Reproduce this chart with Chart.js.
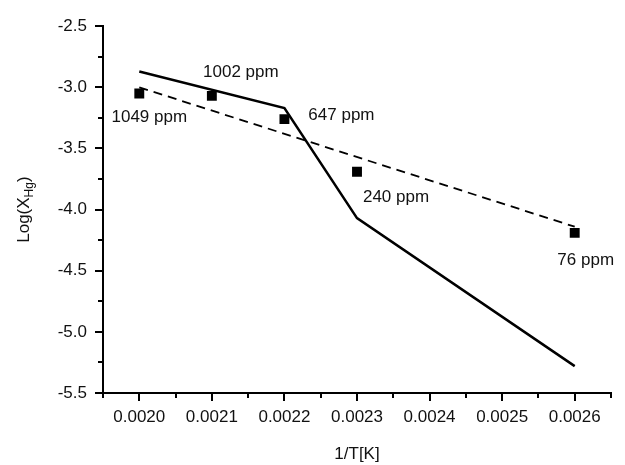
<!DOCTYPE html>
<html>
<head>
<meta charset="utf-8">
<script src="https://cdn.jsdelivr.net/npm/chart.js@4/dist/chart.umd.min.js"></script>
<style>
  html, body { margin: 0; padding: 0; background: #fff; }
  #wrap { width: 625px; height: 465px; position: relative; }
</style>
</head>
<body>
<div id="wrap"><canvas id="c" width="625" height="465"></canvas></div>
<script>
// ---- data ----
const pointX = [0.0020, 0.0021, 0.0022, 0.0023, 0.0026];
const pointY = [-3.05, -3.07, -3.26, -3.69, -4.19];
const pointLabels = ['1049 ppm', '1002 ppm', '647 ppm', '240 ppm', '76 ppm'];

const solidX = [0.0020, 0.0022, 0.0023, 0.0026];
const solidY = [-2.87, -3.17, -4.07, -5.28];

const dashX = [0.0020, 0.0026];
const dashY = [-3.00, -4.14];

const xMin = 0.00195, xMax = 0.00265, xStep = 0.00005, xMajor = 0.0001;
const yMin = -5.5, yMax = -2.5, yStep = 0.25, yMajor = 0.5;
const xTitle = '1/T[K]';
const yTitleMain = 'Log(X';
const yTitleSub = 'Hg';
const yTitleEnd = ')';

const toXY = (xs, ys) => xs.map((x, i) => ({ x: x, y: ys[i] }));
const isMultiple = (v, m) => Math.abs(v / m - Math.round(v / m)) < 1e-6;

const FONT = '"Liberation Sans", Arial, sans-serif';
const FS = 17;

// offsets (px) of the point annotations relative to their markers
const labelOffsets = [[10, 24], [29, -24], [57, -4], [39, 26], [11, 27]];

const decorPlugin = {
  id: 'decor',
  afterDatasetsDraw(chart) {
    const ctx = chart.ctx;
    const xs = chart.scales.x, ys = chart.scales.y;
    ctx.save();
    // tick marks (major longer, minor shorter), drawn outward
    ctx.strokeStyle = '#000';
    ctx.lineWidth = 2;
    xs.ticks.forEach((t, i) => {
      const px = Math.round(xs.getPixelForTick(i));
      const major = isMultiple(t.value, xMajor);
      const len = major ? 8 : 5;
      ctx.beginPath();
      ctx.moveTo(px, xs.top);
      ctx.lineTo(px, xs.top + len);
      ctx.stroke();
    });
    ys.ticks.forEach((t, i) => {
      const py = Math.round(ys.getPixelForTick(i));
      const major = isMultiple(t.value, yMajor);
      const len = major ? 8 : 5;
      ctx.beginPath();
      ctx.moveTo(ys.right, py);
      ctx.lineTo(ys.right - len, py);
      ctx.stroke();
    });
    // point annotations
    ctx.fillStyle = '#111';
    ctx.font = FS + 'px ' + FONT;
    ctx.textAlign = 'center';
    ctx.textBaseline = 'middle';
    pointLabels.forEach((lab, i) => {
      const px = xs.getPixelForValue(pointX[i]);
      const py = ys.getPixelForValue(pointY[i]);
      ctx.fillText(lab, px + labelOffsets[i][0], py + labelOffsets[i][1]);
    });
    // y-axis title with subscript
    const cx = 23, cy = (chart.chartArea.top + chart.chartArea.bottom) / 2;
    ctx.translate(cx, cy);
    ctx.rotate(-Math.PI / 2);
    const mainFont = FS + 'px ' + FONT, subFont = '12px ' + FONT;
    ctx.font = mainFont; const w1 = ctx.measureText(yTitleMain).width;
    const w3 = ctx.measureText(yTitleEnd).width;
    ctx.font = subFont; const w2 = ctx.measureText(yTitleSub).width;
    let x0 = -(w1 + w2 + w3) / 2;
    ctx.textAlign = 'left';
    ctx.textBaseline = 'alphabetic';
    ctx.font = mainFont; ctx.fillText(yTitleMain, x0, 6);
    ctx.font = subFont; ctx.fillText(yTitleSub, x0 + w1, 10);
    ctx.font = mainFont; ctx.fillText(yTitleEnd, x0 + w1 + w2, 6);
    ctx.restore();
  }
};

new Chart(document.getElementById('c'), {
  type: 'scatter',
  data: {
    datasets: [
      {
        type: 'line',
        data: toXY(solidX, solidY),
        borderColor: '#000',
        borderWidth: 2.5,
        pointRadius: 0,
        fill: false,
        tension: 0
      },
      {
        type: 'line',
        data: toXY(dashX, dashY),
        borderColor: '#000',
        borderWidth: 1.8,
        borderDash: [9, 6],
        pointRadius: 0,
        fill: false,
        tension: 0
      },
      {
        data: toXY(pointX, pointY),
        pointStyle: 'rect',
        pointRadius: 7,
        pointHoverRadius: 7,
        backgroundColor: '#000',
        borderColor: '#000',
        borderWidth: 0
      }
    ]
  },
  options: {
    responsive: false,
    animation: false,
    devicePixelRatio: 1,
    layout: { padding: { top: 17, right: 14, left: 0, bottom: 0 } },
    plugins: {
      legend: { display: false },
      tooltip: { enabled: false }
    },
    scales: {
      x: {
        type: 'linear',
        min: xMin, max: xMax,
        afterBuildTicks(scale) {
          const t = [];
          const n = Math.round((xMax - xMin) / xStep);
          for (let i = 0; i <= n; i++) t.push({ value: xMin + i * xStep });
          scale.ticks = t;
        },
        ticks: {
          autoSkip: false,
          maxRotation: 0,
          padding: 14,
          color: '#111',
          font: { family: FONT, size: FS },
          callback: (v) => isMultiple(v, xMajor) ? v.toFixed(4) : ''
        },
        grid: { display: false, drawTicks: false },
        border: { display: true, color: '#000', width: 2 },
        title: {
          display: true,
          text: xTitle,
          color: '#111',
          font: { family: FONT, size: FS },
          padding: { top: 10, bottom: 0 }
        },
        afterFit(scale) { scale.height = 72; }
      },
      y: {
        type: 'linear',
        min: yMin, max: yMax,
        afterBuildTicks(scale) {
          const t = [];
          const n = Math.round((yMax - yMin) / yStep);
          for (let i = 0; i <= n; i++) t.push({ value: yMin + i * yStep });
          scale.ticks = t;
        },
        ticks: {
          autoSkip: false,
          padding: 16,
          color: '#111',
          font: { family: FONT, size: FS },
          callback: (v) => isMultiple(v, yMajor) ? v.toFixed(1) : ''
        },
        grid: { display: false, drawTicks: false },
        border: { display: true, color: '#000', width: 2 },
        afterFit(scale) { scale.width = 103; }
      }
    }
  },
  plugins: [decorPlugin]
});
</script>
</body>
</html>
